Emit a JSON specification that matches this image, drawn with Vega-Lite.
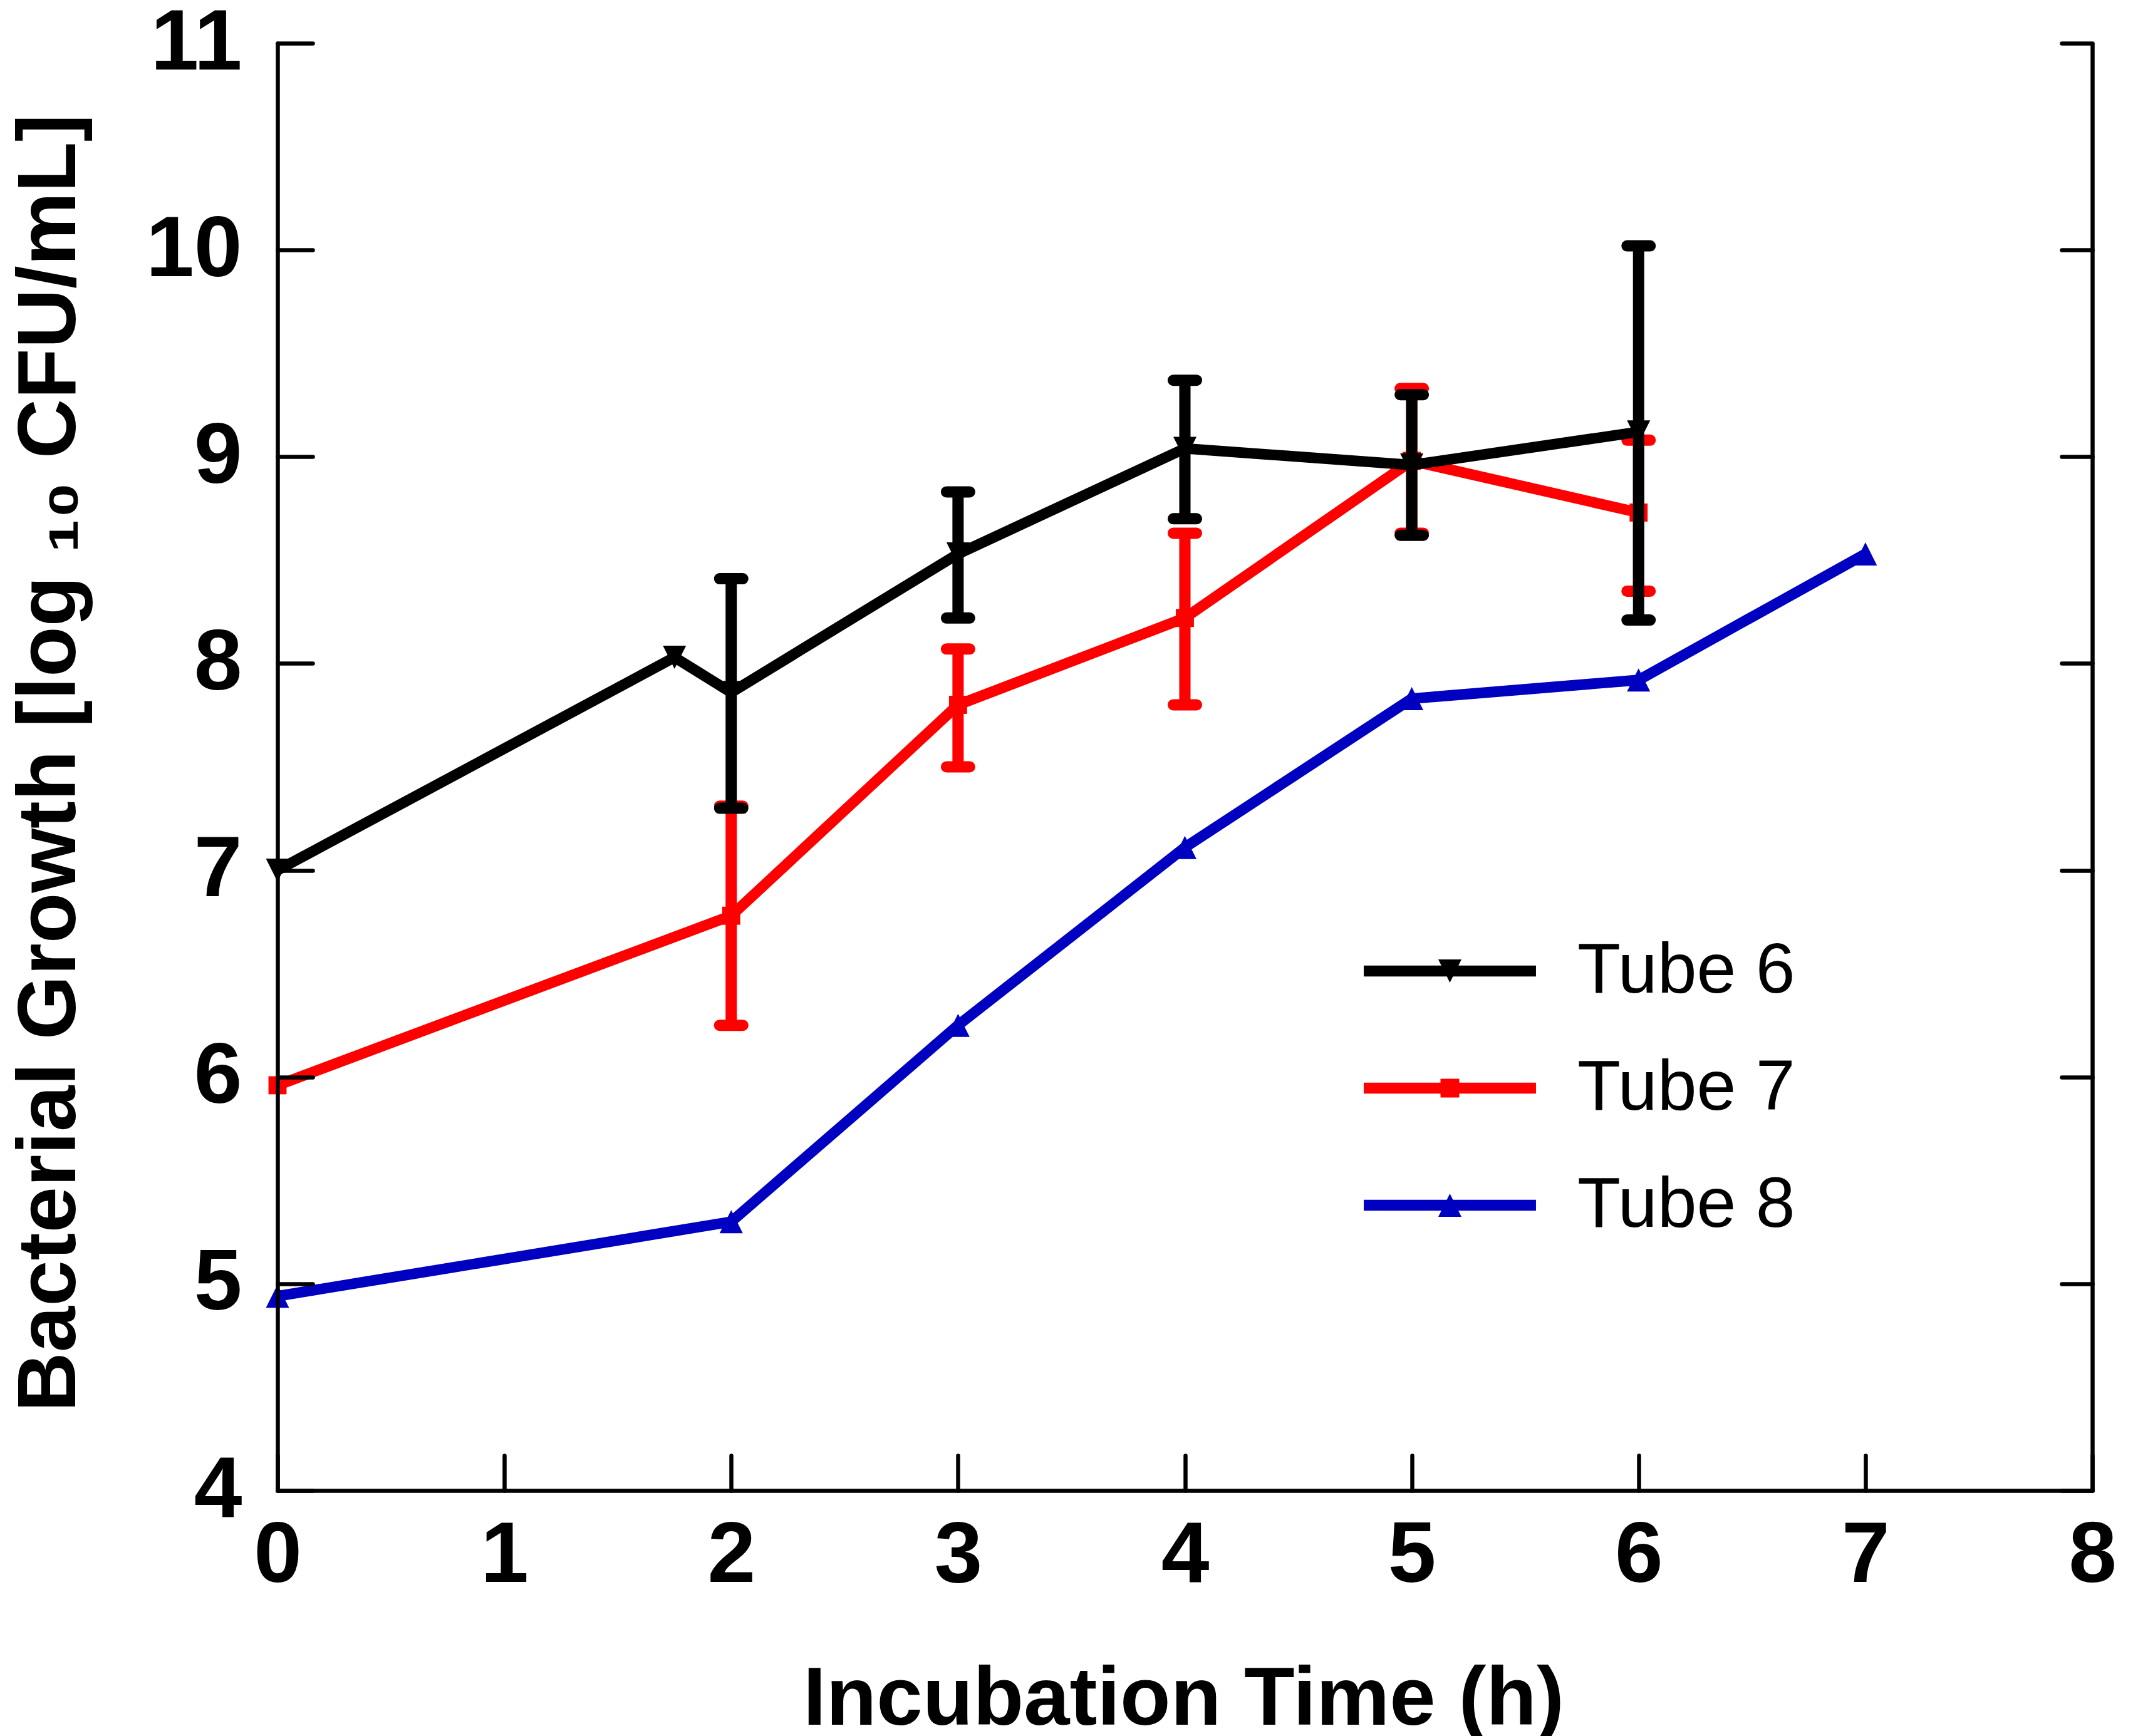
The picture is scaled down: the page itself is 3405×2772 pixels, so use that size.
{
  "$schema": "https://vega.github.io/schema/vega-lite/v6.json",
  "width": 2897,
  "height": 2311,
  "autosize": {"type": "none"},
  "padding": {"left": 443, "top": 69, "right": 65, "bottom": 392},
  "background": "white",
  "config": {"view": {"stroke": null}, "font": "Liberation Sans"},
  "data": {
    "values": [
      {"s": "Tube 6", "t": 0, "y": 7.0},
      {"s": "Tube 6", "t": 1.75, "y": 8.03},
      {"s": "Tube 6", "t": 2, "y": 7.86, "lo": 7.30, "hi": 8.41},
      {"s": "Tube 6", "t": 3, "y": 8.53, "lo": 8.22, "hi": 8.83},
      {"s": "Tube 6", "t": 4, "y": 9.04, "lo": 8.70, "hi": 9.37},
      {"s": "Tube 6", "t": 5, "y": 8.96, "lo": 8.62, "hi": 9.30},
      {"s": "Tube 6", "t": 6, "y": 9.12, "lo": 8.21, "hi": 10.02},
      {"s": "Tube 7", "t": 0, "y": 5.96},
      {"s": "Tube 7", "t": 2, "y": 6.78, "lo": 6.25, "hi": 7.31},
      {"s": "Tube 7", "t": 3, "y": 7.80, "lo": 7.50, "hi": 8.07},
      {"s": "Tube 7", "t": 4, "y": 8.22, "lo": 7.80, "hi": 8.63},
      {"s": "Tube 7", "t": 5, "y": 8.98, "lo": 8.63, "hi": 9.33},
      {"s": "Tube 7", "t": 6, "y": 8.73, "lo": 8.35, "hi": 9.08},
      {"s": "Tube 8", "t": 0, "y": 4.94},
      {"s": "Tube 8", "t": 2, "y": 5.30},
      {"s": "Tube 8", "t": 3, "y": 6.25},
      {"s": "Tube 8", "t": 4, "y": 7.11},
      {"s": "Tube 8", "t": 5, "y": 7.83},
      {"s": "Tube 8", "t": 6, "y": 7.92},
      {"s": "Tube 8", "t": 7, "y": 8.53}
    ]
  },
  "encoding": {
    "x": {
      "field": "t",
      "type": "quantitative",
      "scale": {"domain": [0, 8], "nice": false, "zero": false},
      "axis": {
        "orient": "bottom",
        "values": [0, 1, 2, 3, 4, 5, 6, 7, 8],
        "tickSize": -56,
        "tickWidth": 6.5,
        "tickCap": "round",
        "tickColor": "black",
        "domainColor": "black",
        "domainWidth": 6.5,
        "domainCap": "round",
        "grid": false,
        "labelFont": "Liberation Sans",
        "labelFontWeight": "bold",
        "labelFontSize": 138,
        "labelColor": "black",
        "labelPadding": 92,
        "labelFlush": false,
        "labelOverlap": false,
        "labelBound": false,
        "title": "Incubation Time (h)",
        "titleFont": "Liberation Sans",
        "titleFontWeight": "bold",
        "titleFontSize": 132,
        "titleColor": "black",
        "titleX": 1446,
        "titleY": 373,
        "titleBaseline": "alphabetic",
        "titleAlign": "center",
        "zindex": 1
      }
    },
    "color": {
      "field": "s",
      "type": "nominal",
      "scale": {"domain": ["Tube 6", "Tube 7", "Tube 8"], "range": ["#000000", "#FF0000", "#0000C0"]},
      "legend": {
        "orient": "none",
        "legendX": 1815,
        "legendY": 1425,
        "title": null,
        "padding": 0,
        "symbolSize": 1369,
        "symbolStrokeWidth": 0,
        "labelFont": "Liberation Sans",
        "labelFontSize": 113,
        "labelFontWeight": "normal",
        "labelColor": "black",
        "labelLimit": 0,
        "labelOffset": 147,
        "rowPadding": 73
      }
    }
  },
  "layer": [
    {
      "transform": [{"filter": "datum.s === 'Tube 8'"}],
      "mark": {"type": "line", "strokeWidth": 17},
      "encoding": {
        "y": {
          "field": "y",
          "type": "quantitative",
          "scale": {"domain": [4, 11], "nice": false, "zero": false},
          "axis": {
            "orient": "left",
            "values": [4, 5, 6, 7, 8, 9, 10, 11],
            "tickSize": -56,
            "tickWidth": 6.5,
            "tickCap": "round",
            "tickColor": "black",
            "domainColor": "black",
            "domainWidth": 6.5,
            "domainCap": "round",
            "grid": false,
            "labelFont": "Liberation Sans",
            "labelFontWeight": "bold",
            "labelFontSize": 138,
            "labelColor": "black",
            "labelPadding": 113,
            "labelFlush": false,
            "labelOverlap": false,
            "labelBound": false,
            "title": "Bacterial Growth [log ₁₀ CFU/mL]",
            "titleFont": "Liberation Sans",
            "titleFontWeight": "bold",
            "titleFontSize": 132,
            "titleColor": "black",
            "titleX": -324,
            "titleY": 1149,
            "titleAngle": 270,
            "titleBaseline": "alphabetic",
            "titleAlign": "center",
            "zindex": 1
          }
        }
      }
    },
    {
      "transform": [{"filter": "datum.s === 'Tube 8'"}],
      "mark": {"type": "point", "filled": true, "opacity": 1, "strokeWidth": 0, "size": 1369, "shape": "M-1,1L0,-1L1,1Z"},
      "encoding": {
        "y": {
          "field": "y",
          "type": "quantitative",
          "scale": {"domain": [4, 11], "nice": false, "zero": false},
          "axis": {
            "orient": "right",
            "values": [4, 5, 6, 7, 8, 9, 10, 11],
            "tickSize": -49,
            "tickWidth": 6.5,
            "tickCap": "round",
            "tickColor": "black",
            "domainColor": "black",
            "domainWidth": 6.5,
            "grid": false,
            "labels": false,
            "title": null,
            "zindex": 1
          }
        }
      }
    },
    {
      "transform": [{"filter": "datum.s === 'Tube 7' && isValid(datum.lo)"}],
      "mark": {"type": "rule", "strokeWidth": 18},
      "encoding": {
        "y": {"field": "lo", "type": "quantitative", "scale": {"domain": [4, 11], "nice": false, "zero": false}, "axis": null},
        "y2": {"field": "hi"}
      }
    },
    {
      "transform": [{"filter": "datum.s === 'Tube 7' && isValid(datum.lo)"}],
      "mark": {"type": "rule", "strokeWidth": 18, "strokeCap": "round", "xOffset": -18.5, "x2Offset": 18.5},
      "encoding": {
        "x2": {"field": "t"},
        "y": {"field": "lo", "type": "quantitative", "scale": {"domain": [4, 11], "nice": false, "zero": false}, "axis": null}
      }
    },
    {
      "transform": [{"filter": "datum.s === 'Tube 7' && isValid(datum.hi)"}],
      "mark": {"type": "rule", "strokeWidth": 18, "strokeCap": "round", "xOffset": -18.5, "x2Offset": 18.5},
      "encoding": {
        "x2": {"field": "t"},
        "y": {"field": "hi", "type": "quantitative", "scale": {"domain": [4, 11], "nice": false, "zero": false}, "axis": null}
      }
    },
    {
      "transform": [{"filter": "datum.s === 'Tube 7'"}],
      "mark": {"type": "line", "strokeWidth": 17},
      "encoding": {
        "y": {"field": "y", "type": "quantitative", "scale": {"domain": [4, 11], "nice": false, "zero": false}, "axis": null}
      }
    },
    {
      "transform": [{"filter": "datum.s === 'Tube 7'"}],
      "mark": {"type": "point", "filled": true, "opacity": 1, "strokeWidth": 0, "size": 1369, "shape": "M-0.78,-0.78H0.78V0.78H-0.78Z"},
      "encoding": {
        "y": {"field": "y", "type": "quantitative", "scale": {"domain": [4, 11], "nice": false, "zero": false}, "axis": null}
      }
    },
    {
      "transform": [{"filter": "datum.s === 'Tube 6' && isValid(datum.lo)"}],
      "mark": {"type": "rule", "strokeWidth": 18},
      "encoding": {
        "y": {"field": "lo", "type": "quantitative", "scale": {"domain": [4, 11], "nice": false, "zero": false}, "axis": null},
        "y2": {"field": "hi"}
      }
    },
    {
      "transform": [{"filter": "datum.s === 'Tube 6' && isValid(datum.lo)"}],
      "mark": {"type": "rule", "strokeWidth": 18, "strokeCap": "round", "xOffset": -18.5, "x2Offset": 18.5},
      "encoding": {
        "x2": {"field": "t"},
        "y": {"field": "lo", "type": "quantitative", "scale": {"domain": [4, 11], "nice": false, "zero": false}, "axis": null}
      }
    },
    {
      "transform": [{"filter": "datum.s === 'Tube 6' && isValid(datum.hi)"}],
      "mark": {"type": "rule", "strokeWidth": 18, "strokeCap": "round", "xOffset": -18.5, "x2Offset": 18.5},
      "encoding": {
        "x2": {"field": "t"},
        "y": {"field": "hi", "type": "quantitative", "scale": {"domain": [4, 11], "nice": false, "zero": false}, "axis": null}
      }
    },
    {
      "transform": [{"filter": "datum.s === 'Tube 6'"}],
      "mark": {"type": "line", "strokeWidth": 17},
      "encoding": {
        "y": {"field": "y", "type": "quantitative", "scale": {"domain": [4, 11], "nice": false, "zero": false}, "axis": null}
      }
    },
    {
      "transform": [{"filter": "datum.s === 'Tube 6'"}],
      "mark": {"type": "point", "filled": true, "opacity": 1, "strokeWidth": 0, "size": 1369, "shape": "M-1,-1L1,-1L0,1Z"},
      "encoding": {
        "y": {"field": "y", "type": "quantitative", "scale": {"domain": [4, 11], "nice": false, "zero": false}, "axis": null}
      }
    },
    {
      "transform": [{"filter": "false"}],
      "mark": {"type": "point", "filled": true, "opacity": 1, "strokeWidth": 0, "size": 1369},
      "encoding": {
        "y": {"field": "y", "type": "quantitative", "scale": {"domain": [4, 11], "nice": false, "zero": false}, "axis": null},
        "shape": {
          "field": "s",
          "type": "nominal",
          "scale": {
            "domain": ["Tube 6", "Tube 7", "Tube 8"],
            "range": [
              "M-7.43,-0.47H7.43V0.47H-7.43ZM-1,-1L1,-1L0,1Z",
              "M-7.43,-0.47H7.43V0.47H-7.43ZM-0.81,-0.81H0.81V0.81H-0.81Z",
              "M-7.43,-0.47H7.43V0.47H-7.43ZM-1,1L0,-1L1,1Z"
            ]
          },
          "legend": {
            "orient": "none",
            "legendX": 1815,
            "legendY": 1425,
            "title": null,
            "padding": 0,
            "symbolSize": 1369,
            "symbolStrokeWidth": 0,
            "labelFont": "Liberation Sans",
            "labelFontSize": 113,
            "labelFontWeight": "normal",
            "labelColor": "black",
            "labelLimit": 0,
            "labelOffset": 147,
            "rowPadding": 73
          }
        }
      }
    }
  ],
  "resolve": {"axis": {"y": "independent"}, "scale": {"y": "shared"}}
}
